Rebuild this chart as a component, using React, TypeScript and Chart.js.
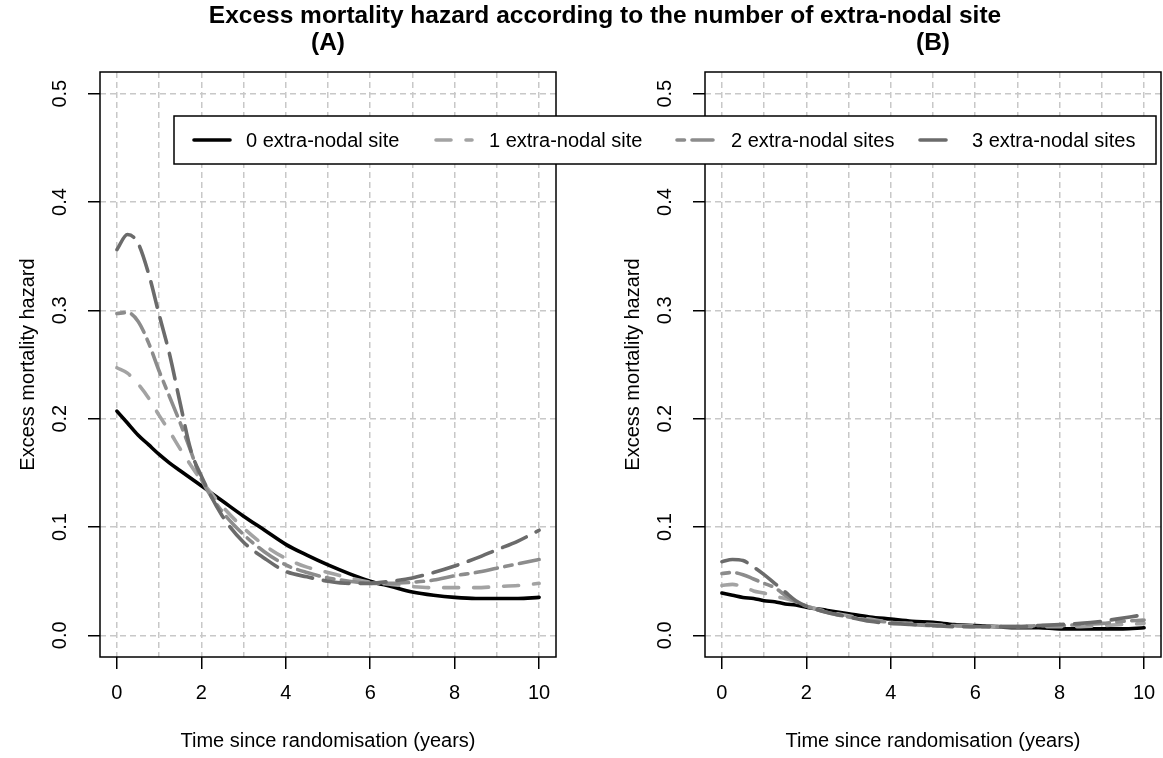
import React, { useEffect, useRef } from 'react';
import { Chart, registerables } from 'chart.js';

Chart.register(...registerables);

// ---------------- data ----------------
const years = [0, 0.25, 0.5, 0.75, 1, 1.25, 1.5, 1.75, 2, 2.5, 3, 3.5, 4, 4.5, 5, 5.5, 6, 6.5, 7, 7.5, 8, 8.5, 9, 9.5, 10];

// Panel (A)
const panelA_site0 = [0.207, 0.196, 0.185, 0.176, 0.167, 0.159, 0.152, 0.145, 0.138, 0.124, 0.110, 0.097, 0.084, 0.074, 0.065, 0.057, 0.050, 0.045, 0.040, 0.037, 0.035, 0.034, 0.034, 0.034, 0.035];
const panelA_site1 = [0.247, 0.242, 0.232, 0.219, 0.203, 0.188, 0.172, 0.157, 0.143, 0.119, 0.099, 0.083, 0.071, 0.063, 0.058, 0.053, 0.049, 0.047, 0.045, 0.044, 0.044, 0.044, 0.045, 0.046, 0.048];
const panelA_site2 = [0.297, 0.298, 0.290, 0.270, 0.244, 0.220, 0.196, 0.170, 0.144, 0.114, 0.093, 0.077, 0.065, 0.058, 0.053, 0.050, 0.048, 0.048, 0.049, 0.051, 0.055, 0.058, 0.062, 0.066, 0.070];
const panelA_site3 = [0.356, 0.370, 0.362, 0.334, 0.296, 0.259, 0.214, 0.171, 0.147, 0.110, 0.086, 0.071, 0.059, 0.054, 0.050, 0.048, 0.048, 0.050, 0.053, 0.058, 0.064, 0.071, 0.079, 0.087, 0.097];

// Panel (B)
const panelB_site0 = [0.039, 0.037, 0.035, 0.034, 0.032, 0.031, 0.029, 0.028, 0.026, 0.023, 0.020, 0.017, 0.015, 0.013, 0.012, 0.010, 0.009, 0.008, 0.007, 0.007, 0.006, 0.006, 0.006, 0.006, 0.007];
const panelB_site1 = [0.046, 0.047, 0.045, 0.041, 0.039, 0.036, 0.034, 0.031, 0.027, 0.022, 0.018, 0.015, 0.012, 0.011, 0.010, 0.009, 0.009, 0.008, 0.008, 0.008, 0.008, 0.008, 0.009, 0.010, 0.011];
const panelB_site2 = [0.057, 0.058, 0.056, 0.052, 0.048, 0.044, 0.037, 0.031, 0.027, 0.021, 0.017, 0.014, 0.012, 0.010, 0.009, 0.009, 0.008, 0.008, 0.008, 0.009, 0.009, 0.010, 0.011, 0.013, 0.014];
const panelB_site3 = [0.068, 0.070, 0.069, 0.063, 0.056, 0.048, 0.040, 0.032, 0.027, 0.021, 0.017, 0.013, 0.011, 0.010, 0.009, 0.008, 0.008, 0.008, 0.008, 0.009, 0.010, 0.011, 0.013, 0.016, 0.019];

const seriesLabels = ['0 extra-nodal site', '1 extra-nodal site', '2 extra-nodal sites', '3 extra-nodal sites'];
const seriesColors = ['#000000', '#a3a3a3', '#8c8c8c', '#6b6b6b'];
const seriesDashes: number[][] = [[], [15, 15], [7.5, 7.5, 22.5, 7.5], [26, 11]];

const xGridValues = [0, 1, 2, 3, 4, 5, 6, 7, 8, 9, 10];
const xLabelValues = [0, 2, 4, 6, 8, 10];
const yTickValues = [0, 0.1, 0.2, 0.3, 0.4, 0.5];
const yTickLabels = ['0.0', '0.1', '0.2', '0.3', '0.4', '0.5'];

const mainTitle = 'Excess mortality hazard according to the number of extra-nodal site';
const panelTitles = ['(A)', '(B)'];
const xAxisTitle = 'Time since randomisation (years)';
const yAxisTitle = 'Excess mortality hazard';

// ---------------- helpers ----------------
const W = 1163;
const H = 758;
const FONT = "'Liberation Sans', Arial, sans-serif";
const LINE_W = 3.6;

function buildDatasets(series: number[][]) {
  return series.map((vals, i) => ({
    label: seriesLabels[i],
    data: years.map((x, k) => ({ x, y: vals[k] })),
    borderColor: seriesColors[i],
    borderWidth: LINE_W,
    borderDash: seriesDashes[i],
    borderCapStyle: 'round' as const,
    borderJoinStyle: 'round' as const,
    pointRadius: 0,
    fill: false,
    cubicInterpolationMode: 'monotone' as const,
    order: 3 - i,
  }));
}

function makePanelPlugin(title: string, drawOverlay: boolean) {
  return {
    id: 'panelExtras' + (drawOverlay ? 'B' : 'A'),
    afterDatasetsDraw(chart: any) {
      const { ctx, chartArea } = chart;
      ctx.save();
      ctx.strokeStyle = '#000';
      ctx.lineWidth = 1.5;
      ctx.setLineDash([]);
      ctx.strokeRect(chartArea.left, chartArea.top, chartArea.right - chartArea.left, chartArea.bottom - chartArea.top);
      ctx.restore();
    },
    afterDraw(chart: any) {
      const { ctx, chartArea } = chart;
      const ys = chart.scales.y;
      // rotated y tick labels
      ctx.save();
      ctx.font = `20px ${FONT}`;
      ctx.fillStyle = '#000';
      ctx.textAlign = 'center';
      ctx.textBaseline = 'middle';
      yTickValues.forEach((v, i) => {
        const py = ys.getPixelForValue(v);
        ctx.save();
        ctx.translate(chartArea.left - 40, py);
        ctx.rotate(-Math.PI / 2);
        ctx.fillText(yTickLabels[i], 0, 0);
        ctx.restore();
      });
      // panel title
      ctx.font = `bold 24.5px ${FONT}`;
      ctx.fillText(title, (chartArea.left + chartArea.right) / 2, 43);
      ctx.restore();

      if (drawOverlay) {
        ctx.save();
        // main title
        ctx.font = `bold 24.5px ${FONT}`;
        ctx.fillStyle = '#000';
        ctx.textAlign = 'center';
        ctx.textBaseline = 'middle';
        ctx.fillText(mainTitle, 605, 16);

        // legend box
        const lx = 174, ly = 116, lw = 982, lh = 48;
        ctx.fillStyle = '#ffffff';
        ctx.fillRect(lx, ly, lw, lh);
        ctx.strokeStyle = '#000';
        ctx.lineWidth = 1.5;
        ctx.setLineDash([]);
        ctx.strokeRect(lx, ly, lw, lh);

        const sampleX = [194, 436, 677, 920];
        const textX = [246, 489, 731, 972];
        const cy = ly + lh / 2;
        for (let i = 0; i < 4; i++) {
          ctx.beginPath();
          ctx.strokeStyle = seriesColors[i];
          ctx.lineWidth = LINE_W;
          ctx.lineCap = 'round';
          ctx.setLineDash(seriesDashes[i]);
          ctx.moveTo(sampleX[i], cy);
          ctx.lineTo(sampleX[i] + 36, cy);
          ctx.stroke();
          ctx.setLineDash([]);
          ctx.fillStyle = '#000';
          ctx.font = `20px ${FONT}`;
          ctx.textAlign = 'left';
          ctx.textBaseline = 'middle';
          ctx.fillText(seriesLabels[i], textX[i], cy + 1);
        }
        ctx.restore();
      }
    },
  };
}

function makeConfig(series: number[][], padLeft: number, padRight: number, title: string, overlay: boolean): any {
  return {
    type: 'line',
    data: { datasets: buildDatasets(series) },
    options: {
      responsive: false,
      devicePixelRatio: 1,
      animation: false,
      events: [],
      layout: { padding: { left: padLeft, right: padRight, top: 72, bottom: 0 } },
      plugins: {
        legend: { display: false },
        title: { display: false },
        tooltip: { enabled: false },
      },
      scales: {
        x: {
          type: 'linear',
          min: -0.4,
          max: 10.4,
          afterBuildTicks: (scale: any) => {
            scale.ticks = xGridValues.map((v) => ({ value: v }));
          },
          afterFit: (scale: any) => {
            scale.height = 101;
            scale.paddingLeft = 0;
            scale.paddingRight = 0;
          },
          ticks: {
            autoSkip: false,
            maxRotation: 0,
            minRotation: 0,
            padding: 12,
            color: '#000',
            font: { family: FONT, size: 20 },
            callback: (value: number) => (xLabelValues.includes(value) ? String(value) : ''),
          },
          grid: {
            color: '#c8c8c8',
            lineWidth: 1.5,
            drawTicks: true,
            tickLength: 12,
            tickWidth: 1.5,
            tickBorderDash: [],
            tickColor: (ctx: any) => (ctx.tick && xLabelValues.includes(ctx.tick.value) ? '#000' : 'rgba(0,0,0,0)'),
          },
          border: { display: false, dash: [6, 4] },
          title: {
            display: true,
            text: xAxisTitle,
            color: '#000',
            font: { family: FONT, size: 20 },
            padding: { top: 0, bottom: 5 },
          },
        },
        y: {
          type: 'linear',
          min: -0.02,
          max: 0.52,
          afterBuildTicks: (scale: any) => {
            scale.ticks = yTickValues.map((v) => ({ value: v }));
          },
          afterFit: (scale: any) => {
            scale.width = 100;
            scale.paddingTop = 0;
            scale.paddingBottom = 0;
          },
          ticks: { display: false },
          grid: {
            color: '#c8c8c8',
            lineWidth: 1.5,
            drawTicks: true,
            tickLength: 12,
            tickWidth: 1.5,
            tickBorderDash: [],
            tickColor: '#000',
          },
          border: { display: false, dash: [6, 4] },
          title: {
            display: true,
            text: yAxisTitle,
            color: '#000',
            font: { family: FONT, size: 20 },
            padding: { top: 16, bottom: 0 },
          },
        },
      },
    },
    plugins: [makePanelPlugin(title, overlay)],
  };
}

export default function App() {
  const refA = useRef<HTMLCanvasElement | null>(null);
  const refB = useRef<HTMLCanvasElement | null>(null);

  useEffect(() => {
    if (!refA.current || !refB.current) return;
    const chartA = new Chart(
      refA.current,
      makeConfig([panelA_site0, panelA_site1, panelA_site2, panelA_site3], 0, W - 556, panelTitles[0], false)
    );
    const chartB = new Chart(
      refB.current,
      makeConfig([panelB_site0, panelB_site1, panelB_site2, panelB_site3], 605, 2, panelTitles[1], true)
    );
    return () => {
      chartA.destroy();
      chartB.destroy();
    };
  }, []);

  return (
    <div style={{ position: 'absolute', left: 0, top: 0, width: W, height: H, background: '#fff' }}>
      <canvas ref={refA} width={W} height={H} style={{ position: 'absolute', left: 0, top: 0 }} />
      <canvas ref={refB} width={W} height={H} style={{ position: 'absolute', left: 0, top: 0 }} />
    </div>
  );
}
